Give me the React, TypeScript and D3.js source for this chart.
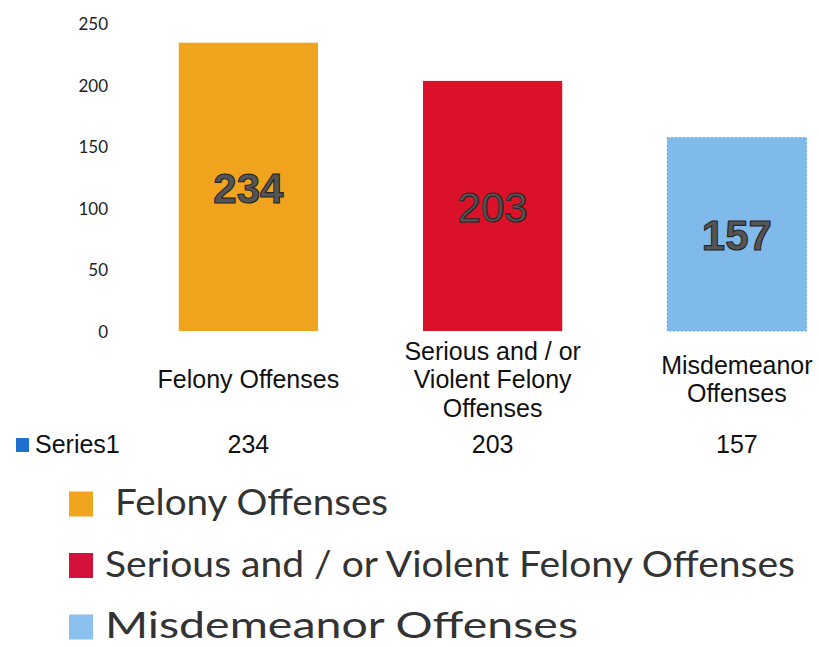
import React from "react";
import * as d3 from "d3";

const CATEGORIES = ["Felony Offenses", "Serious and / or Violent Felony Offenses", "Misdemeanor Offenses"];
const CATEGORY_LINES = [["Felony Offenses"], ["Serious and / or", "Violent Felony", "Offenses"], ["Misdemeanor", "Offenses"]];
const VALUES = [234, 203, 157];
const SERIES_NAME = "Series1";
const Y_TICKS = [0, 50, 100, 150, 200, 250];
const BAR_COLORS = ["#F0A31D", "#DA1128", "#80BAEA"];
const LEGEND_COLORS = ["#F1A51F", "#D2123A", "#8CC0EE"];

const W = 819;
const H = 647;

export default function App() {
  const y = d3.scaleLinear().domain([0, 250]).range([331, 23]);
  const x = d3
    .scaleBand<string>()
    .domain(CATEGORIES)
    .range([126.25, 859])
    .paddingInner(0.43)
    .paddingOuter(0.215);
  const bw = x.bandwidth();
  const lineH = 28.5;
  const legendY = d3.scalePoint<string>().domain(CATEGORIES).range([504, 627]);
  const legendWidths = [273, 690, 473];
  const legendX = [115, 105, 105];

  return (
    <svg
      width={W}
      height={H}
      viewBox={`0 0 ${W} ${H}`}
      style={{ position: "absolute", left: 0, top: 0, background: "#fff" }}
    >
      {/* y tick labels */}
      <g fontFamily="Lato, 'Open Sans', sans-serif" fontSize={17} fill="#222" textAnchor="end">
        {Y_TICKS.map((t) => (
          <text key={t} x={108} y={y(t) + 1} dy="0.35em">
            {t}
          </text>
        ))}
      </g>

      {/* bars */}
      {CATEGORIES.map((c, i) => {
        const x0 = x(c)!;
        const top = y(VALUES[i]);
        const bottom = y(0);
        return (
          <g key={c}>
            <rect
              x={x0}
              y={top}
              width={bw}
              height={bottom - top}
              fill={BAR_COLORS[i]}
              stroke={i === 2 ? "#5aa8e4" : "none"}
              strokeDasharray={i === 2 ? "2,2" : undefined}
              strokeWidth={1}
            />
            <text
              x={x0 + bw / 2}
              y={(top + bottom) / 2 + 1}
              dy="0.36em"
              textAnchor="middle"
              fontFamily="'Liberation Sans', Arial, sans-serif"
              fontWeight={i === 1 ? 400 : 700}
              fontSize={42}
              fill="#555"
              stroke="#262626"
              strokeWidth={1.1}
            >
              {VALUES[i]}
            </text>
          </g>
        );
      })}

      {/* category labels */}
      <g fontFamily="'Liberation Sans', Arial, sans-serif" fontSize={25} fill="#111" textAnchor="middle">
        {CATEGORIES.map((c, i) => {
          const lines = CATEGORY_LINES[i];
          const cx = x(c)! + bw / 2;
          const start = 388 - ((lines.length - 1) * lineH) / 2;
          return (
            <text key={c}>
              {lines.map((l, j) => (
                <tspan key={j} x={cx} y={start + j * lineH}>
                  {l}
                </tspan>
              ))}
            </text>
          );
        })}
      </g>

      {/* data table row */}
      <g fontFamily="'Liberation Sans', Arial, sans-serif" fontSize={25} fill="#111">
        <rect x={16} y={438} width={13} height={14} fill="#1F6FD1" />
        <text x={35} y={453}>
          {SERIES_NAME}
        </text>
        {CATEGORIES.map((c, i) => (
          <text key={c} x={x(c)! + bw / 2} y={453} textAnchor="middle">
            {VALUES[i]}
          </text>
        ))}
      </g>

      {/* bottom legend */}
      <g fontFamily="Lato, 'Open Sans', sans-serif" fontSize={37} fill="#333">
        {CATEGORIES.map((c, i) => {
          const cy = legendY(c)!;
          return (
            <g key={c}>
              <rect x={69} y={cy - 12.5} width={24} height={25} fill={LEGEND_COLORS[i]} />
              <text
                x={legendX[i]}
                y={cy + 11}
                textLength={legendWidths[i]}
                lengthAdjust="spacingAndGlyphs"
              >
                {c}
              </text>
            </g>
          );
        })}
      </g>
    </svg>
  );
}
